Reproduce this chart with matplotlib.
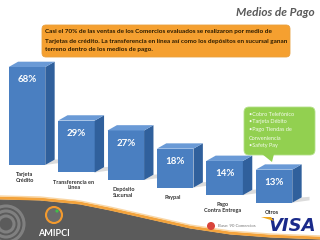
import matplotlib.pyplot as plt
from matplotlib.patches import Polygon, FancyBboxPatch, Circle
import numpy as np

# data
categories = ["Tarjeta\nCrédito", "Transferencia en\nLinea", "Depósito\nSucursal",
              "Paypal", "Pago\nContra Entrega", "Otros"]
values = [68, 29, 27, 18, 14, 13]
value_labels = ["68%", "29%", "27%", "18%", "14%", "13%"]
otros_items = ["•Cobro Telefónico", "•Tarjeta Débito", "•Pago Tiendas de",
               "Conveniencia", "•Safety Pay"]
title = "Medios de Pago"
summary = ["Casi el 70% de las ventas de los Comercios evaluados se realizaron por medio de",
           "Tarjetas de crédito. La transferencia en línea así como los depósitos en sucursal ganan",
           "terreno dentro de los medios de pago."]

FONT = ["Lato", "DejaVu Sans"]
plt.rcParams['font.family'] = FONT

fig = plt.figure(figsize=(3.2, 2.4), dpi=100)
fig.patch.set_facecolor("white")

# background / decoration layer in pixel coordinates
bg = fig.add_axes([0, 0, 1, 1])
bg.set_xlim(0, 320)
bg.set_ylim(240, 0)
bg.axis("off")

# bottom swoosh
cx = np.array([0, 40, 80, 110, 150, 190, 230, 270, 320])
cy = np.array([198, 199, 203, 209, 218, 227, 233, 236, 238])
bg.fill_between(cx, cy + 2, 241, color="#5b5b5b", zorder=1)
bg.plot(cx, cy, color="#f3a33c", lw=2.2, zorder=2)
bg.plot(cx, cy - 2, color="#f9d7a6", lw=1.0, zorder=2)
for r in (8, 13, 18):
    bg.add_patch(Circle((6, 224), r, fill=False, ec="#9a9a9a", lw=2.2, alpha=0.6, zorder=2))

# AMIPCI logo
bg.add_patch(Circle((54, 215), 8, fc="#6b6b6b", ec="#f39a2e", lw=1.5, zorder=3))
bg.add_patch(Circle((57, 211), 1.6, fc="#3fbf4a", ec="none", zorder=4))
bg.text(54, 233, "AMIPCI", color="white", fontsize=6.5, fontweight="bold",
        ha="center", va="center", zorder=4)

# VISA logo
bg.text(292, 226, "VISA", color="#1a2a8a", fontsize=13, fontweight="bold",
        style="italic", ha="center", va="center", family=["DejaVu Sans"], zorder=4)
bg.add_patch(Polygon([[261, 217], [271, 217], [274, 221]], closed=True,
                     fc="#f0a81c", ec="none", zorder=4))
bg.add_patch(Circle((211, 226), 4, fc="#d9443a", ec="none", zorder=4))
bg.text(218, 226, "Base: 90 Comercios", color="#777777", fontsize=3.2,
        ha="left", va="center", zorder=4)

# title
bg.text(315, 13, title, color="#595959", fontsize=8.5, fontweight="bold",
        style="italic", ha="right", va="center", zorder=4)

# orange box
bg.add_patch(FancyBboxPatch((42, 25), 248, 32, boxstyle="round,pad=0,rounding_size=4",
                            fc="#f5a030", ec="#e8a040", lw=0.6, zorder=3))
for k, line in enumerate(summary):
    bg.text(45, 32 + k * 9, line, color="#2a1a00", fontsize=4.6, fontweight="bold",
            ha="left", va="center", zorder=4)

# green callout
bg.add_patch(FancyBboxPatch((244, 107), 71, 48, boxstyle="round,pad=0,rounding_size=5",
                            fc="#92d050", ec="#b5e08a", lw=0.6, zorder=3))
bg.add_patch(Polygon([[262, 154], [274, 154], [272, 162]], closed=True,
                     fc="#92d050", ec="none", zorder=3))
for k, line in enumerate(otros_items):
    bg.text(249, 114 + k * 8, line, color="#f4fbec", fontsize=4.0,
            ha="left", va="center", zorder=4)

# chart layer
ax = fig.add_axes([0, 0, 1, 1])
ax.patch.set_alpha(0)
ax.axis("off")
px_x = 49.4
px_y = 1.18
ax.set_xlim(-27 / px_x, (320 - 27) / px_x)
ax.set_ylim(68 - 173 / px_y, 68 + 67 / px_y)

x = np.arange(len(values))
width = 0.74
floor = 15
step = 6.4
bottoms = -floor - step * x
heights = np.array(values) + floor
dx = 0.19
dy = 4.5

bars = ax.bar(x, heights, width=width, bottom=bottoms, color="#4a7fc1",
              edgecolor="none", zorder=5)
for b, lab, cat in zip(bars, value_labels, categories):
    x0 = b.get_x()
    x1 = x0 + b.get_width()
    y0 = b.get_y()
    y1 = y0 + b.get_height()
    # floor shadow
    ax.add_patch(Polygon([[x1, y0], [x1 + 0.35, y0 + 2], [x1 + 0.35, y0 + 5], [x1 + dx, y0 + dy]],
                         closed=True, fc="#dcdcdc", ec="none", zorder=4))
    ax.add_patch(Polygon([[x1, y0], [x1 + dx, y0 + dy], [x1 + dx, y1 + dy], [x1, y1]],
                         closed=True, fc="#30609c", ec="none", zorder=5))
    ax.add_patch(Polygon([[x0, y1], [x0 + dx, y1 + dy], [x1 + dx, y1 + dy], [x1, y1]],
                         closed=True, fc="#6a9ad6", ec="none", zorder=5))
    xc = x0 + b.get_width() / 2
    ax.text(xc, y1 - 11, lab, color="white", fontsize=7, fontweight="bold",
            ha="center", va="center", zorder=6)
    ax.text(xc - 0.05, y0 - 6, cat, color="#333333", fontsize=4, fontweight="bold",
            ha="center", va="top", linespacing=1.2, zorder=6)

fig.savefig("out.png", dpi=100)
